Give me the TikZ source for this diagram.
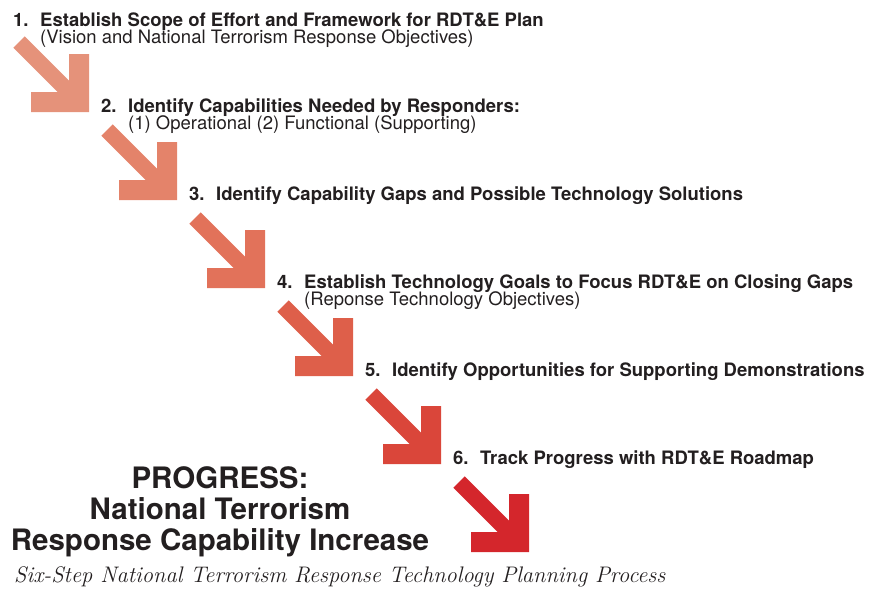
\documentclass[tikz,border=0pt]{standalone}
\usepackage{fontspec}
\setsansfont{TeX Gyre Heros}
\usepackage{tikz}

\definecolor{stepA}{RGB}{229,146,122}
\definecolor{stepB}{RGB}{228,131,106}
\definecolor{stepC}{RGB}{226,114,90}
\definecolor{stepD}{RGB}{222,95,74}
\definecolor{stepE}{RGB}{218,70,58}
\definecolor{stepF}{RGB}{212,38,44}
\definecolor{ink}{RGB}{35,31,32}

\tikzset{
  stepnum/.style={anchor=base west,inner sep=0pt,text=ink,font=\sffamily\bfseries\fontsize{18.5}{20}\selectfont},
  steptitle/.style={anchor=base west,inner sep=0pt,text=ink,font=\sffamily\bfseries\fontsize{18.5}{20}\selectfont},
  stepnote/.style={anchor=base west,inner sep=0pt,text=ink,font=\sffamily\fontsize{18.5}{20}\selectfont},
}

\begin{document}
\begin{tikzpicture}[x=1pt,y=-1pt]
            \useasboundingbox (0,0) rectangle (875,592);

            % bent arrows, corner at (0,0), shaft runs up-left
            \foreach \i/\col in {0/stepA,1/stepB,2/stepC,3/stepD,4/stepE,5/stepF}
                \fill[\col,shift={({89+88*\i},{112+88*\i})}]
                    (0,0) -- (0,-58) -- (-20,-58) -- (-20,-31.3)
                    -- (-64.3,-75.7) -- (-75.7,-64.3)
                    -- (-31.3,-20) -- (-58,-20) -- (-58,0) -- cycle;

            \node[stepnum] (n1) at (13,26) {1.};
            \node[steptitle] (s1) at (40,26) {Establish Scope of Effort and Framework for RDT\&E Plan};
            \node[stepnote] (c1) at (40,43) {(Vision and National Terrorism Response Objectives)};

            \node[stepnum] (n2) at (101,112) {2.};
            \node[steptitle] (s2) at (128,112) {Identify Capabilities Needed by Responders:};
            \node[stepnote] (c2) at (128,129) {(1) Operational (2) Functional (Supporting)};

            \node[stepnum] (n3) at (189,200) {3.};
            \node[steptitle] (s3) at (216,200) {Identify Capability Gaps and Possible Technology Solutions};

            \node[stepnum] (n4) at (277,288) {4.};
            \node[steptitle] (s4) at (304,288) {Establish Technology Goals to Focus RDT\&E on Closing Gaps};
            \node[stepnote] (c4) at (304,305) {(Reponse Technology Objectives)};

            \node[stepnum] (n5) at (365,376) {5.};
            \node[steptitle] (s5) at (392,376) {Identify Opportunities for Supporting Demonstrations};

            \node[stepnum] (n6) at (453,464) {6.};
            \node[steptitle] (s6) at (480,464) {Track Progress with RDT\&E Roadmap};

            \node[anchor=base,align=center,inner sep=0pt,text=ink,
                  font=\sffamily\bfseries\fontsize{29.5}{31}\selectfont] (goal) at (220,550)
                {PROGRESS:\\National Terrorism\\Response Capability Increase};

            \node[anchor=base west,inner sep=0pt,text=ink,
                  font=\itshape\fontsize{22.5}{24}\selectfont] (title) at (14,582)
                {Six-Step National Terrorism Response Technology Planning Process};
\end{tikzpicture}
\end{document}
